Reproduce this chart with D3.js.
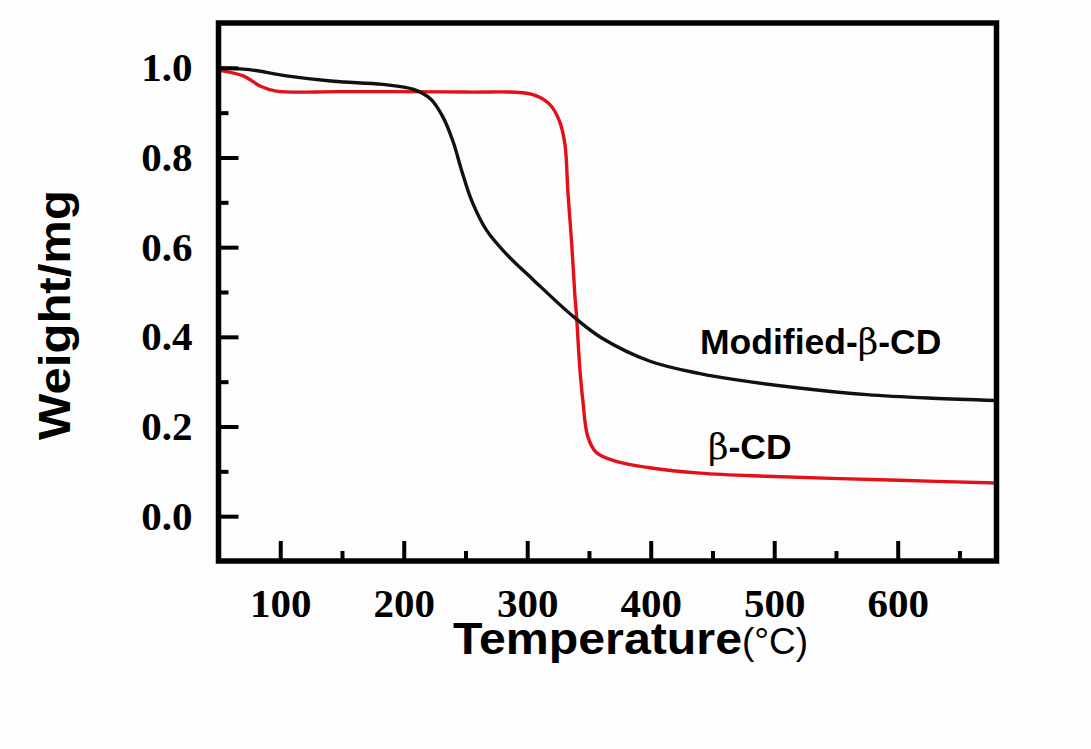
<!DOCTYPE html>
<html>
<head>
<meta charset="utf-8">
<script src="https://cdn.jsdelivr.net/npm/d3@7"></script>
<style>
  html, body { margin: 0; padding: 0; background: #fdfdfd; }
  svg { display: block; }
</style>
</head>
<body>
<svg id="chart" width="1091" height="749"></svg>
<script>
// Thermogravimetric curves: weight versus temperature
const tempModified = [50, 75, 105, 143, 183, 208, 222, 232, 240, 247, 255, 267, 283, 305, 337, 360, 400, 440, 467, 520, 575, 628, 680];
const weightModified = [1.0, 0.996, 0.982, 0.97, 0.963, 0.952, 0.93, 0.889, 0.835, 0.77, 0.704, 0.638, 0.585, 0.527, 0.446, 0.398, 0.345, 0.318, 0.305, 0.286, 0.271, 0.263, 0.258];

const tempBetaCD = [50, 70, 84, 97, 150, 250, 304, 318, 326, 330.5, 333, 336, 338.5, 340, 342.5, 345, 349, 356, 372, 399, 440, 493, 601, 680];
const weightBetaCD = [0.995, 0.982, 0.959, 0.948, 0.947, 0.946, 0.941, 0.919, 0.882, 0.83, 0.72, 0.608, 0.496, 0.444, 0.333, 0.259, 0.178, 0.142, 0.122, 0.108, 0.096, 0.089, 0.080, 0.074];

const xMajorTicks = [100, 200, 300, 400, 500, 600];
const xMinorTicks = [150, 250, 350, 450, 550, 650];
const yMajorTicks = [0.0, 0.2, 0.4, 0.6, 0.8, 1.0];
const yMinorTicks = [0.1, 0.3, 0.5, 0.7, 0.9];

const seriesNames = ["Modified-β-CD", "β-CD"];
const seriesColors = ["#111111", "#e3101a"];

(function draw() {
  const svg = d3.select("#chart");
  const plotLeft = 218.5, plotRight = 996.5, plotTop = 23, plotBottom = 561;

  const x = d3.scaleLinear().domain([50, 680]).range([plotLeft, plotRight]);
  const y = d3.scaleLinear().domain([-0.1, 1.1]).range([plotBottom, plotTop]);

  const serif = "'Liberation Serif', 'Times New Roman', serif";
  const sans = "'Liberation Sans', Arial, sans-serif";

  // clip the curves to the plotting frame
  svg.append("clipPath").attr("id", "plotClip")
    .append("rect").attr("x", plotLeft).attr("y", plotTop)
    .attr("width", plotRight - plotLeft).attr("height", plotBottom - plotTop);

  const line = d3.line()
    .x(d => x(d[0]))
    .y(d => y(d[1]))
    .curve(d3.curveCatmullRom.alpha(0.5));

  const series = [
    { pts: d3.zip(tempBetaCD, weightBetaCD), color: seriesColors[1] },
    { pts: d3.zip(tempModified, weightModified), color: seriesColors[0] }
  ];

  svg.append("g").attr("clip-path", "url(#plotClip)")
    .selectAll("path").data(series).join("path")
    .attr("d", d => line(d.pts))
    .attr("fill", "none")
    .attr("stroke", d => d.color)
    .attr("stroke-width", 3.4)
    .attr("stroke-linejoin", "round")
    .attr("stroke-linecap", "round");

  // x axis: major ticks with labels, minor ticks without
  svg.append("g")
    .attr("transform", `translate(0,${plotBottom})`)
    .call(d3.axisBottom(x).tickValues(xMajorTicks).tickSize(-20).tickSizeOuter(0).tickPadding(27));
  svg.append("g")
    .attr("transform", `translate(0,${plotBottom})`)
    .call(d3.axisBottom(x).tickValues(xMinorTicks).tickSize(-10).tickSizeOuter(0).tickFormat(""));

  // y axis
  svg.append("g")
    .attr("transform", `translate(${plotLeft},0)`)
    .call(d3.axisLeft(y).tickValues(yMajorTicks).tickSize(-20).tickSizeOuter(0).tickPadding(26).tickFormat(d3.format(".1f")));
  svg.append("g")
    .attr("transform", `translate(${plotLeft},0)`)
    .call(d3.axisLeft(y).tickValues(yMinorTicks).tickSize(-10).tickSizeOuter(0).tickFormat(""));

  svg.selectAll(".domain").remove();
  svg.selectAll(".tick line").attr("stroke", "#000").attr("stroke-width", 4);
  svg.selectAll(".tick text")
    .attr("fill", "#000")
    .style("font-family", serif)
    .style("font-weight", "bold")
    .style("font-size", "41px");

  // frame
  svg.append("rect")
    .attr("x", plotLeft).attr("y", plotTop)
    .attr("width", plotRight - plotLeft).attr("height", plotBottom - plotTop)
    .attr("fill", "none").attr("stroke", "#000").attr("stroke-width", 5.5);

  // axis titles
  const xTitle = svg.append("text")
    .attr("x", 453).attr("y", 654)
    .attr("fill", "#000")
    .style("font-family", sans);
  xTitle.append("tspan").text("Temperature")
    .style("font-weight", "bold").style("font-size", "45px")
    .attr("textLength", 289).attr("lengthAdjust", "spacingAndGlyphs");
  xTitle.append("tspan").text("(°C)")
    .style("font-weight", "normal").style("font-size", "37px");

  svg.append("text")
    .attr("transform", "translate(70,315) rotate(-90)")
    .attr("text-anchor", "middle")
    .attr("fill", "#000")
    .style("font-family", sans)
    .style("font-weight", "bold")
    .style("font-size", "45px")
    .attr("textLength", 250).attr("lengthAdjust", "spacingAndGlyphs")
    .text("Weight/mg");

  // series labels
  function seriesLabel(name, px, py, size) {
    const t = svg.append("text").attr("x", px).attr("y", py)
      .attr("fill", "#000")
      .style("font-family", sans).style("font-weight", "bold").style("font-size", size + "px");
    name.split(/(β)/).filter(s => s.length).forEach(part => {
      const ts = t.append("tspan").text(part);
      if (part === "β") ts.style("font-weight", "normal").style("font-family", "'DejaVu Serif', serif");
    });
    return t;
  }
  seriesLabel(seriesNames[0], 700, 354, 35.5);
  seriesLabel(seriesNames[1], 708, 459, 35.5);
})();
</script>
</body>
</html>
